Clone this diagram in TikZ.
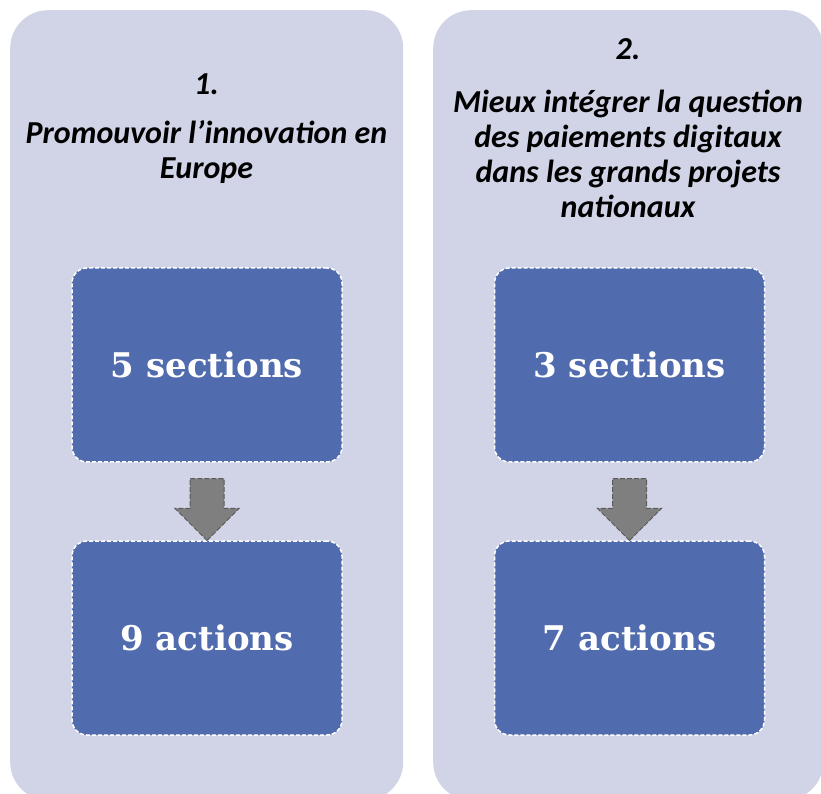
\documentclass[tikz,border=0pt]{standalone}
\usepackage{fontspec}
\setmainfont{Carlito}
\newfontfamily\boxfont{DejaVu Serif}
\usetikzlibrary{shapes.arrows}
\definecolor{panelgray}{HTML}{D0D4E6}
\definecolor{boxblue}{HTML}{506BAE}
\definecolor{arrowgray}{HTML}{7F7F7F}
\definecolor{arrowline}{HTML}{5A5A5A}

\begin{document}
\begin{tikzpicture}[x=1pt,y=1pt]
  \tikzset{PanelStyle/.style = {fill=panelgray,rounded corners=38pt,inner sep=0pt,anchor=north west}}
  \tikzset{BoxStyle/.style = {fill=boxblue,draw=white,line width=1.5pt,dash pattern=on 4pt off 2pt,
      rounded corners=15pt,minimum width=270pt,minimum height=194pt,inner sep=0pt,
      text=white,font=\boxfont\bfseries\fontsize{34}{40}\selectfont}}
  \tikzset{DownArrow/.style = {single arrow,shape border rotate=270,fill=arrowgray,draw=arrowline,
      line width=1pt,dash pattern=on 5pt off 2pt,minimum height=62pt,minimum width=63pt,
      single arrow head extend=15pt,single arrow tip angle=90,inner sep=16.5pt}}
  \tikzset{NumStyle/.style = {font=\bfseries\itshape\fontsize{32}{35}\selectfont,anchor=base,inner sep=0pt}}
  \tikzset{TitleStyle/.style = {font=\bfseries\itshape\fontsize{32}{35}\selectfont,align=center,anchor=north,inner sep=0pt}}
  \useasboundingbox (0,0) rectangle (821,793);
  % panels
  \node[PanelStyle,minimum width=393pt,minimum height=790pt] (panel_1) at (10,783) {};
  \node[PanelStyle,minimum width=390pt,minimum height=790pt] (panel_2) at (433,783) {};
  % panel 1
  \node[NumStyle] (num_1) at (206.5,698) {1.};
  \node[TitleStyle] (title_1) at (206.5,672.4) {Promouvoir l’innovation en\\Europe};
  \node[BoxStyle] (sec_1) at (207,428) {5 sections};
  \node[BoxStyle] (act_1) at (207,155) {9 actions};
  \node[DownArrow] (arr_1) at (207,292) {};
  % panel 2
  \node[NumStyle] (num_2) at (628,733) {2.};
  \node[TitleStyle] (title_2) at (628,703.4) {Mieux intégrer la question\\des paiements digitaux\\dans les grands projets\\nationaux};
  \node[BoxStyle] (sec_2) at (629.5,428) {3 sections};
  \node[BoxStyle] (act_2) at (629.5,155) {7 actions};
  \node[DownArrow] (arr_2) at (629.5,292) {};
\end{tikzpicture}
\end{document}
